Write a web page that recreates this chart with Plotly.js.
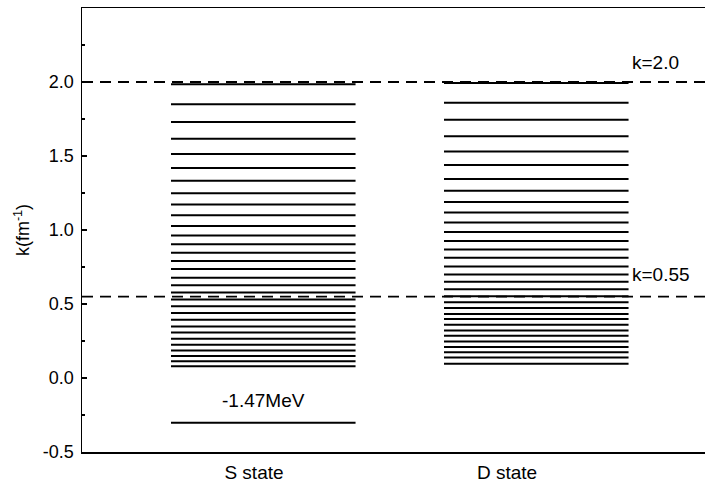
<!DOCTYPE html>
<html>
<head>
<meta charset="utf-8">
<script src="https://cdn.plot.ly/plotly-3.0.1.min.js"></script>
<style>
html,body{margin:0;padding:0;overflow:hidden;background:#fff;}
#chart{width:714px;height:489px;}
</style>
</head>
<body>
<div id="chart"></div>
<script>
// Data
const states = ["S state", "D state"];
const statePos = [1, 2];
const labelPos = [0.966, 1.893];
const sLevels = [1.984, 1.849, 1.729, 1.616, 1.514, 1.419, 1.333, 1.249, 1.172, 1.100,
  1.027, 0.962, 0.903, 0.847, 0.790, 0.737, 0.677, 0.627, 0.577, 0.530,
  0.484, 0.439, 0.394, 0.348, 0.308, 0.265, 0.224, 0.185, 0.149, 0.113, 0.079];
const sBound = [-0.303];
const dLevels = [1.993, 1.860, 1.745, 1.634, 1.530, 1.439, 1.344, 1.265, 1.190, 1.118,
  1.050, 0.986, 0.925, 0.869, 0.813, 0.754, 0.699, 0.650, 0.599, 0.553,
  0.511, 0.473, 0.432, 0.399, 0.360, 0.321, 0.285, 0.246, 0.210, 0.174, 0.138, 0.097];
const refLines = [2.0, 0.55];
const refLabels = ["k=2.0", "k=0.55"];
const boundLabel = "-1.47MeV";

const halfW = 0.338;
function levelTrace(pos, levels) {
  const x = [], y = [];
  levels.forEach(v => { x.push(pos - halfW, pos + halfW, null); y.push(v, v, null); });
  return {x, y, type: 'scatter', mode: 'lines', line: {color: '#000', width: 2}, hoverinfo: 'skip', showlegend: false};
}

const traces = [
  levelTrace(statePos[0], sLevels),
  levelTrace(statePos[0], sBound),
  levelTrace(statePos[1], dLevels)
];

const shapes = refLines.map(v => ({
  type: 'line', xref: 'paper', x0: 0, x1: 1, yref: 'y', y0: v, y1: v,
  line: {color: '#000', width: 1.8, dash: '11px,7px'}
}));

const fam = '"Liberation Sans", Arial, sans-serif';
const font = {family: fam, size: 19, color: '#000'};
const annotations = [
  {x: 2.343, y: refLines[0], xref: 'x', yref: 'y', text: refLabels[0], showarrow: false, xanchor: 'left', yanchor: 'bottom', yshift: 7, font},
  {x: 2.343, y: refLines[1], xref: 'x', yref: 'y', text: refLabels[1], showarrow: false, xanchor: 'left', yanchor: 'bottom', yshift: 10, font},
  {x: statePos[0], y: sBound[0], xref: 'x', yref: 'y', text: boundLabel, showarrow: false, xanchor: 'center', yanchor: 'bottom', yshift: 10, font}
];

const layout = {
  width: 714, height: 489,
  margin: {l: 82, r: 0, t: 8, b: 37},
  paper_bgcolor: '#fff', plot_bgcolor: '#fff',
  showlegend: false,
  font,
  xaxis: {
    range: [0.336, 2.651], tickvals: labelPos, ticktext: states,
    showgrid: false, zeroline: false, showline: true, linecolor: '#000', linewidth: 1.5,
    mirror: true, ticks: '', ticklabelstandoff: 3, tickfont: {family: fam, size: 19, color: '#000'}
  },
  yaxis: {
    range: [-0.5, 2.5], tickvals: [-0.5, 0, 0.5, 1, 1.5, 2, 2.5],
    ticktext: ['-0.5', '0.0', '0.5', '1.0', '1.5', '2.0', '2.5'],
    showgrid: false, zeroline: false, showline: true, linecolor: '#000', linewidth: 1.5,
    mirror: true, ticks: 'inside', ticklen: 5, tickwidth: 1.2, tickcolor: '#000',
    minor: {tickvals: [-0.25, 0.25, 0.75, 1.25, 1.75, 2.25], ticks: 'inside', ticklen: 3, tickwidth: 1.2, tickcolor: '#000'},
    ticklabelstandoff: 3,
    tickfont: {family: fam, size: 18, color: '#000'},
    title: {text: 'k(fm<sup>-1</sup>)', font: {family: fam, size: 18, color: '#000'}, standoff: 8}
  },
  shapes, annotations
};

Plotly.newPlot('chart', traces, layout, {displayModeBar: false, staticPlot: true});
</script>
</body>
</html>
